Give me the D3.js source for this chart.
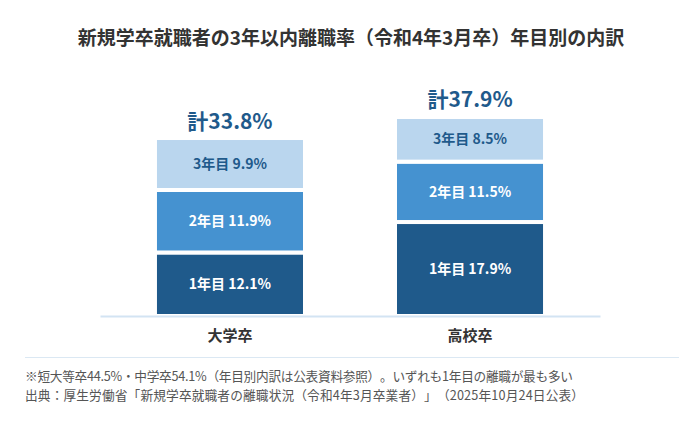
<!DOCTYPE html>
<html>
<head>
<meta charset="utf-8">
<script src="https://cdn.jsdelivr.net/npm/d3@7/dist/d3.min.js"></script>
<style>
  html, body { margin: 0; padding: 0; background: #fff; }
  svg { display: block; font-family: "Noto Sans CJK JP", "Noto Sans", sans-serif; }
  svg text { text-spacing-trim: space-all; }
</style>
</head>
<body>
<svg id="chart" width="700" height="424"></svg>
<script>
const titleText = "新規学卒就職者の3年以内離職率（令和4年3月卒）年目別の内訳";
const categories = ["大学卒", "高校卒"];
const seriesNames = ["1年目", "2年目", "3年目"];
const year1 = [12.1, 17.9];
const year2 = [11.9, 11.5];
const year3 = [9.9, 8.5];
const totals = [33.8, 37.9];
const notes = [
  "※短大等卒44.5%・中学卒54.1%（年目別内訳は公表資料参照）。いずれも1年目の離職が最も多い",
  "出典：厚生労働省「新規学卒就職者の離職状況（令和4年3月卒業者）」（2025年10月24日公表）"
];
const noteWidths = [548, 559];

const colors = ["#1f5a8b", "#4592d0", "#bad6ee"];
const labelColors = ["#ffffff", "#ffffff", "#1f5a8b"];

const svg = d3.select("#chart");

const x = d3.scaleBand()
  .domain(categories)
  .range([100, 600])
  .paddingInner(0.375)
  .paddingOuter(0.229);

const y = d3.scaleLinear().domain([0, 40]).range([316, 106]);

const rows = categories.map((c, i) => ({ cat: c, "1年目": year1[i], "2年目": year2[i], "3年目": year3[i] }));
const stack = d3.stack().keys(seriesNames)(rows);

// title
svg.append("text")
  .attr("x", 351).attr("y", 45)
  .attr("text-anchor", "middle")
  .attr("font-size", 19).attr("font-weight", 700)
  .attr("fill", "#333333")
  .text(titleText);

// bars
stack.forEach((layer, li) => {
  const g = svg.append("g");
  g.selectAll("rect").data(layer).enter().append("rect")
    .attr("x", d => x(d.data.cat))
    .attr("width", x.bandwidth())
    .attr("y", d => y(d[1]))
    .attr("height", d => y(d[0]) - y(d[1]))
    .attr("fill", colors[li])
    .attr("stroke", "#ffffff")
    .attr("stroke-width", 4);
  g.selectAll("text").data(layer).enter().append("text")
    .attr("x", d => x(d.data.cat) + x.bandwidth() / 2)
    .attr("y", d => (y(d[0]) + y(d[1])) / 2)
    .attr("dy", "0.36em")
    .attr("text-anchor", "middle")
    .attr("font-size", 14).attr("font-weight", 700)
    .attr("fill", labelColors[li])
    .text(d => `${seriesNames[li]} ${(d[1] - d[0]).toFixed(1)}%`);
});

// totals
svg.append("g").selectAll("text").data(categories).enter().append("text")
  .attr("x", c => x(c) + x.bandwidth() / 2)
  .attr("y", (c, i) => y(totals[i]) - 10)
  .attr("text-anchor", "middle")
  .attr("font-size", 21).attr("font-weight", 700)
  .attr("fill", "#1f5a8b")
  .text((c, i) => `計${totals[i].toFixed(1)}%`);

// baseline axis
const axis = d3.axisBottom(x).tickSize(0).tickPadding(14);
const ax = svg.append("g").attr("transform", `translate(0,${y(0)})`).call(axis);
ax.select(".domain").attr("stroke", "#d3e4f3").attr("stroke-width", 2);
ax.selectAll(".tick text")
  .attr("font-family", "Noto Sans CJK JP")
  .attr("font-size", 15).attr("font-weight", 700)
  .attr("fill", "#333333");

// separator
svg.append("line")
  .attr("x1", 25).attr("x2", 679)
  .attr("y1", 357.5).attr("y2", 357.5)
  .attr("stroke", "#dbe8f3").attr("stroke-width", 1);

// notes
svg.append("g").selectAll("text").data(notes).enter().append("text")
  .attr("x", 25)
  .attr("y", (d, i) => 381 + i * 19)
  .attr("font-size", 12.7)
  .attr("fill", "#555555")
  .attr("textLength", (d, i) => noteWidths[i])
  .attr("lengthAdjust", "spacing")
  .text(d => d);
</script>
</body>
</html>
